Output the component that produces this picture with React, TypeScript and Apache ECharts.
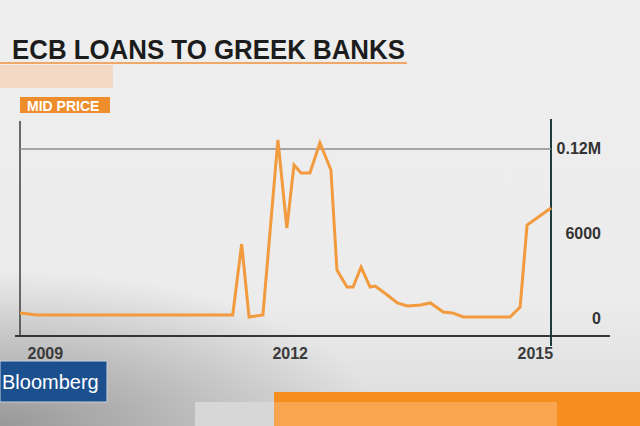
import React, { useEffect, useRef } from "react";
import * as echarts from "echarts";

// ---- Data ----
const dates = [
  "2008-09-10", "2008-11-25", "2011-04-19", "2011-05-29", "2011-07-01",
  "2011-09-01", "2011-11-07", "2011-12-17", "2012-01-18", "2012-02-19",
  "2012-03-29", "2012-05-13", "2012-07-01", "2012-07-28", "2012-09-11",
  "2012-10-08", "2012-11-13", "2012-12-23", "2013-01-15", "2013-03-10",
  "2013-04-24", "2013-06-08", "2013-08-05", "2013-09-19", "2013-11-15",
  "2013-12-26", "2014-02-13", "2014-09-10", "2014-10-25", "2014-11-25",
  "2015-03-12",
];
const loans = [
  3550, 2130, 2130, 52500, 700,
  2130, 126400, 63900, 108600, 103000,
  103000, 124300, 105100, 34100, 22000,
  22000, 36200, 22000, 22700, 16300,
  10700, 8500, 9200, 10700, 4300,
  3600, 700, 700, 7800, 66000,
  78100,
];
const yTickValues = [0, 60000, 120000];
const yTickLabels = ["0", "6000", "0.12M"];
const xTickDates = ["2009-01-01", "2012-01-01", "2015-01-01"];
const xTickLabels = ["2009", "2012", "2015"];
const gridLineValue = 120000;
const xMin = "2008-09-10";
const xMax = "2015-03-12";
const yMin = -12781;
const yMax = 137751;

const titleText = "ECB LOANS TO GREEK BANKS";
const subtitleText = "MID PRICE";
const brandText = "Bloomberg";

const FONT = '"Liberation Sans", Arial, Helvetica, sans-serif';

const toTime = (d: string) => +echarts.time.parse(d);

export default function App() {
  const ref = useRef<HTMLDivElement>(null);

  useEffect(() => {
    document.body.style.margin = "0";
    if (!ref.current) return;
    const chart = echarts.init(ref.current, undefined, { renderer: "svg" });
    const xTickTimes = xTickDates.map(toTime);

    chart.setOption({
      animation: false,
      backgroundColor: {
        type: "linear", x: 0, y: 0, x2: 0, y2: 1,
        colorStops: [
          { offset: 0, color: "#eeeeee" },
          { offset: 0.7, color: "#ececec" },
          { offset: 1, color: "#dcdcdc" },
        ],
      },
      grid: { left: 20, right: 89, top: 124, bottom: 90, containLabel: false },
      xAxis: {
        type: "value",
        min: toTime(xMin),
        max: toTime(xMax),
        axisLine: { show: false },
        axisTick: { show: false },
        splitLine: { show: false },
        axisLabel: {
          customValues: xTickTimes,
          formatter: (v: number) => {
            const i = xTickTimes.findIndex((t) => Math.abs(t - v) < 864e5);
            return i >= 0 ? xTickLabels[i] : "";
          },
          margin: 9,
          fontFamily: FONT,
          fontWeight: "bold",
          fontSize: 16,
          color: "#3a3a3a",
          hideOverlap: false,
        },
      },
      yAxis: {
        type: "value",
        position: "right",
        min: yMin,
        max: yMax,
        axisLine: { show: false },
        axisTick: { show: false },
        splitLine: { show: false },
        axisLabel: {
          customValues: yTickValues,
          formatter: (v: number) => {
            const i = yTickValues.indexOf(v);
            return i >= 0 ? yTickLabels[i] : "";
          },
          align: "right",
          margin: 50,
          fontFamily: FONT,
          fontWeight: "bold",
          fontSize: 16,
          color: "#333333",
        },
      },
      series: [
        {
          type: "line",
          data: dates.map((d, i) => [toTime(d), loans[i]]),
          symbol: "none",
          z: 5,
          lineStyle: { color: "#f29a3e", width: 3, join: "miter" },
          markLine: {
            silent: true,
            symbol: ["none", "none"],
            label: { show: false },
            z: 1,
            lineStyle: { color: "#8c8c8c", width: 1.5, type: "solid" },
            data: [{ yAxis: gridLineValue }],
          },
        },
      ],
      graphic: [
        {
          type: "rect", z: -10, silent: true,
          shape: { x: 0, y: 270, width: 380, height: 156 },
          style: {
            fill: {
              type: "radial", x: 0, y: 1, r: 1,
              colorStops: [
                { offset: 0, color: "rgba(130,130,130,0.75)" },
                { offset: 1, color: "rgba(130,130,130,0)" },
              ],
            },
          },
        },
        { type: "rect", shape: { x: 0, y: 62, width: 407, height: 2 }, style: { fill: "#f0a868" } },
        { type: "rect", shape: { x: 0, y: 65, width: 113, height: 23 }, style: { fill: "#f1d9c3" } },
        {
          type: "text", x: 12, y: 50, scaleX: 0.923,
          style: {
            text: titleText, font: `bold 28px ${FONT}`, fill: "#1c1c1c",
            align: "left", verticalAlign: "middle",
          },
        },
        { type: "rect", shape: { x: 20, y: 97, width: 90, height: 16 }, style: { fill: "#ee8d2c" } },
        {
          type: "text", x: 27, y: 106,
          style: {
            text: subtitleText, font: `bold 14px ${FONT}`, fill: "#ffffff",
            align: "left", verticalAlign: "middle",
          },
        },
        { type: "line", shape: { x1: 20, y1: 121, x2: 20, y2: 336 }, style: { stroke: "#3c3c3c", lineWidth: 1.5 } },
        { type: "line", shape: { x1: 15, y1: 336, x2: 610, y2: 336 }, style: { stroke: "#353535", lineWidth: 2 } },
        { type: "line", shape: { x1: 551, y1: 119, x2: 551, y2: 346 }, style: { stroke: "#1f3c3c", lineWidth: 2 } },
        { type: "rect", shape: { x: 0, y: 361, width: 107, height: 41 }, style: { fill: "#1c4f8e", stroke: "#c9d3de", lineWidth: 1 } },
        {
          type: "text", x: 2, y: 382,
          style: {
            text: brandText, font: `20px ${FONT}`, fill: "#ffffff",
            align: "left", verticalAlign: "middle",
          },
        },
        { type: "rect", shape: { x: 195, y: 402, width: 79, height: 24 }, style: { fill: "#d7d7d7" } },
        { type: "rect", shape: { x: 274, y: 392, width: 366, height: 34 }, style: { fill: "#f68d1f" } },
        { type: "rect", shape: { x: 274, y: 402, width: 283, height: 24 }, style: { fill: "#f7a54f" } },
      ],
    });

    return () => chart.dispose();
  }, []);

  return <div ref={ref} style={{ width: 640, height: 426 }} />;
}
